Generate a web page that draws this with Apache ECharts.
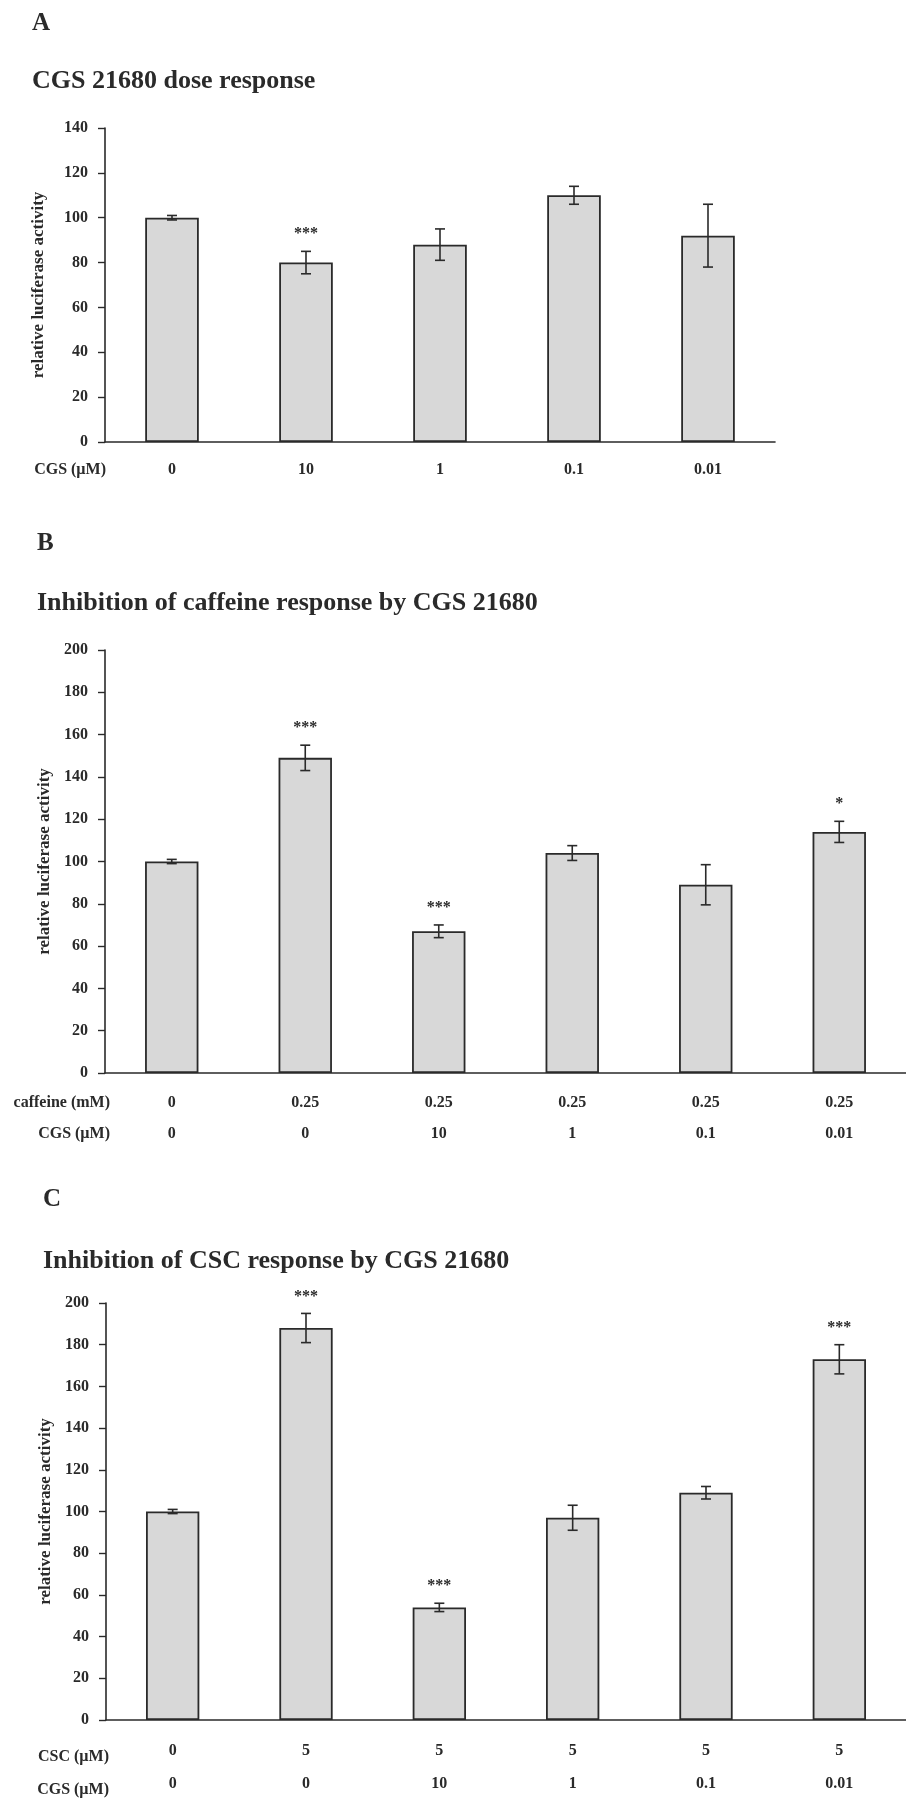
<!DOCTYPE html>
<html>
<head>
<meta charset="utf-8">
<script src="https://cdn.jsdelivr.net/npm/echarts@6/dist/echarts.min.js"></script>
<style>
  html, body { margin: 0; padding: 0; background: #fff; }
  #chart { width: 906px; height: 1800px; }
</style>
</head>
<body>
<div id="chart"></div>
<script>
// Panel A: CGS 21680 dose response
const cgsA = ['0', '10', '1', '0.1', '0.01'];
const meanA = [100, 80, 88, 110, 92];
const errA = [1, 5, 7, 4, 14];
const sigA = ['', '***', '', '', ''];
const ticksA = { min: 0, max: 140, interval: 20 };

// Panel B: caffeine response with CGS 21680
const caffeineB = ['0', '0.25', '0.25', '0.25', '0.25', '0.25'];
const cgsB = ['0', '0', '10', '1', '0.1', '0.01'];
const meanB = [100, 149, 67, 104, 89, 114];
const errB = [1, 6, 3, 3.5, 9.5, 5];
const sigB = ['', '***', '***', '', '', '*'];
const ticksB = { min: 0, max: 200, interval: 20 };

// Panel C: CSC response with CGS 21680
const cscC = ['0', '5', '5', '5', '5', '5'];
const cgsC = ['0', '0', '10', '1', '0.1', '0.01'];
const meanC = [100, 188, 54, 97, 109, 173];
const errC = [1, 7, 2, 6, 3, 7];
const sigC = ['', '***', '***', '', '', '***'];
const ticksC = { min: 0, max: 200, interval: 20 };

const FONT = '"Liberation Serif", "Times New Roman", serif';
const INK = '#2a2a2a';

const panels = [
  {
    letter: 'A', letterX: 32, letterY: 24,
    title: 'CGS 21680 dose response', titleX: 32, titleY: 81,
    grid: { left: 105, top: 128, width: 670, height: 314 },
    ticks: ticksA, rows: [cgsA], rowNames: ['CGS (\u00b5M)'], rowRight: 106,
    mean: meanA, err: errA, sig: sigA, labelMargin: 18, lineHeight: 20, nameGap: 58
  },
  {
    letter: 'B', letterX: 37, letterY: 544,
    title: 'Inhibition of caffeine response by CGS 21680', titleX: 37, titleY: 603,
    grid: { left: 105, top: 650, width: 801, height: 423 },
    ticks: ticksB, rows: [caffeineB, cgsB], rowNames: ['caffeine (mM)', 'CGS (\u00b5M)'], rowRight: 110,
    mean: meanB, err: errB, sig: sigB, labelMargin: 14, lineHeight: 31, nameGap: 52
  },
  {
    letter: 'C', letterX: 43, letterY: 1200,
    title: 'Inhibition of CSC response by CGS 21680', titleX: 43, titleY: 1261,
    grid: { left: 106, top: 1303, width: 800, height: 423 },
    ticks: ticksC, rows: [cscC, cgsC], rowNames: ['CSC (\u00b5M)', 'CGS (\u00b5M)'], rowRight: 109,
    mean: meanC, err: errC, sig: sigC, labelMargin: 14, lineHeight: 33, nameGap: 52
  }
];

function errorBarRenderer(sig) {
  return function (params, api) {
    const i = api.value(0), m = api.value(1), e = api.value(2);
    const top = api.coord([i, m + e]);
    const bot = api.coord([i, m - e]);
    const hw = 5;
    const style = { stroke: INK, lineWidth: 1.6 };
    const children = [
      { type: 'line', shape: { x1: top[0], y1: top[1], x2: bot[0], y2: bot[1] }, style: style },
      { type: 'line', shape: { x1: top[0] - hw, y1: top[1], x2: top[0] + hw, y2: top[1] }, style: style },
      { type: 'line', shape: { x1: bot[0] - hw, y1: bot[1], x2: bot[0] + hw, y2: bot[1] }, style: style }
    ];
    const s = sig[params.dataIndex];
    if (s) {
      children.push({
        type: 'text', x: top[0], y: top[1] - 17,
        style: { text: s, align: 'center', verticalAlign: 'middle', fill: INK,
                 fontFamily: FONT, fontWeight: 'bold', fontSize: 16 }
      });
    }
    return { type: 'group', children: children };
  };
}

const option = {
  animation: false,
  backgroundColor: '#fff',
  grid: [], xAxis: [], yAxis: [], series: [], graphic: []
};

panels.forEach(function (p, k) {
  option.grid.push(Object.assign({ containLabel: false }, p.grid));

  const rows = p.rows;
  option.xAxis.push({
    type: 'category', gridIndex: k, data: rows[0], boundaryGap: true,
    axisLine: { show: true, lineStyle: { color: INK, width: 1.6 } },
    axisTick: { show: false },
    axisLabel: {
      interval: 0, margin: p.labelMargin, color: INK,
      fontFamily: FONT, fontWeight: 'bold', fontSize: 16, lineHeight: p.lineHeight,
      formatter: function (v, idx) {
        return rows.map(function (r) { return r[idx]; }).join('\n');
      }
    },
    splitLine: { show: false }
  });

  option.yAxis.push({
    type: 'value', gridIndex: k,
    min: p.ticks.min, max: p.ticks.max, interval: p.ticks.interval,
    name: 'relative luciferase activity', nameLocation: 'middle', nameGap: p.nameGap,
    nameTextStyle: { color: INK, fontFamily: FONT, fontWeight: 'bold', fontSize: 17 },
    axisLine: { show: true, lineStyle: { color: INK, width: 1.6 } },
    axisTick: { show: true, inside: false, length: 7, lineStyle: { color: INK, width: 1.4 } },
    axisLabel: { margin: 17, color: INK, fontFamily: FONT, fontWeight: 'bold', fontSize: 16 },
    splitLine: { show: false }
  });

  option.series.push({
    type: 'bar', xAxisIndex: k, yAxisIndex: k, data: p.mean, barWidth: '40%',
    itemStyle: { color: '#d8d8d8', borderColor: INK, borderWidth: 1.8 },
    z: 2
  });

  option.series.push({
    type: 'custom', xAxisIndex: k, yAxisIndex: k, clip: false, z: 3,
    data: p.mean.map(function (m, i) { return [i, m, p.err[i]]; }),
    renderItem: errorBarRenderer(p.sig)
  });

  // panel letter and heading
  option.graphic.push({
    type: 'text', x: p.letterX, y: p.letterY,
    style: { text: p.letter, verticalAlign: 'middle', fill: INK, fontFamily: FONT, fontWeight: 'bold', fontSize: 25 }
  });
  option.graphic.push({
    type: 'text', x: p.titleX, y: p.titleY,
    style: { text: p.title, verticalAlign: 'middle', fill: INK, fontFamily: FONT, fontWeight: 'bold', fontSize: 26 }
  });

  // row headings to the left of the category labels
  const axisY = p.grid.top + p.grid.height;
  p.rowNames.forEach(function (name, r) {
    option.graphic.push({
      type: 'text', x: p.rowRight,
      y: axisY + p.labelMargin + p.lineHeight * (r + 0.5),
      style: { text: name, align: 'right', verticalAlign: 'middle', fill: INK,
               fontFamily: FONT, fontWeight: 'bold', fontSize: 16 }
    });
  });
});

const chart = echarts.init(document.getElementById('chart'), null, { renderer: 'canvas' });
chart.setOption(option);
</script>
</body>
</html>
